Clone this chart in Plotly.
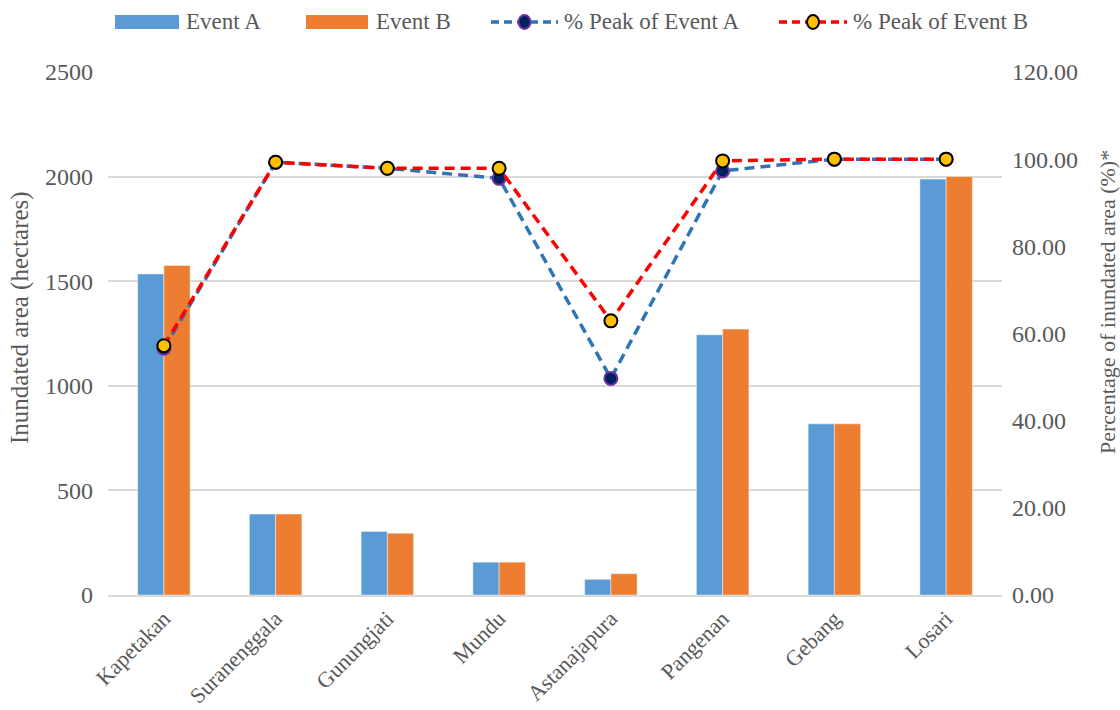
import plotly.graph_objects as go

# Sub-districts and inundated area per event
districts = ["Kapetakan", "Suranenggala", "Gunungjati", "Mundu",
             "Astanajapura", "Pangenan", "Gebang", "Losari"]
area_a = [1535, 387, 304, 157, 75, 1244, 818, 1988]
area_b = [1575, 387, 295, 157, 102, 1271, 818, 2000]
# Percentage of inundated area relative to the peak of each event
pct_a = [56.6, 99.3, 97.9, 95.6, 49.7, 97.3, 100.0, 100.0]
pct_b = [57.2, 99.3, 97.9, 97.9, 62.9, 99.6, 100.0, 100.0]

left_ticks = [0, 500, 1000, 1500, 2000, 2500]
right_ticks = [0, 20, 40, 60, 80, 100, 120]

FONT = "Liberation Serif, Times New Roman, serif"
TXT = "#595959"
GRID = "#d9d9d9"
BLUE = "#5b9bd5"
ORANGE = "#ed7d31"

W, H = 1120, 710
L, R, T, B = 108, 1002, 72, 595


def px(x):
    return (x - L) / (R - L)


def py(y):
    return (B - y) / (B - T)


fig = go.Figure()
fig.add_trace(go.Bar(x=districts, y=area_a, name="Event A",
                     marker=dict(color=BLUE, line=dict(color="rgba(255,255,255,0.45)", width=1)),
                     showlegend=False))
fig.add_trace(go.Bar(x=districts, y=area_b, name="Event B",
                     marker=dict(color=ORANGE, line=dict(color="rgba(255,255,255,0.45)", width=1)),
                     showlegend=False))
fig.add_trace(go.Scatter(x=districts, y=pct_a, name="% Peak of Event A", yaxis="y2",
                         mode="lines+markers",
                         line=dict(color="#2e75b6", width=3.5, dash="10px,6px"),
                         marker=dict(size=13, color="#002060", line=dict(color="#7030a0", width=2)),
                         showlegend=False))
fig.add_trace(go.Scatter(x=districts, y=pct_b, name="% Peak of Event B", yaxis="y2",
                         mode="lines+markers",
                         line=dict(color="#ff0000", width=3.5, dash="10px,6px"),
                         marker=dict(size=13, color="#ffc000", line=dict(color="#000000", width=2)),
                         showlegend=False))

# Legend drawn as shapes and text above the plot
shapes = []
annotations = []
ly = 22
for x0, x1, col in [(115, 179, BLUE), (306, 368, ORANGE)]:
    shapes.append(dict(type="rect", xref="paper", yref="paper",
                       x0=px(x0), x1=px(x1), y0=py(29), y1=py(15),
                       fillcolor=col, line=dict(width=0)))
for x0, x1, lc, fc, oc in [(491, 558, "#2e75b6", "#002060", "#7030a0"),
                           (779, 847, "#ff0000", "#ffc000", "#000000")]:
    shapes.append(dict(type="line", xref="paper", yref="paper",
                       x0=px(x0), x1=px(x1), y0=py(ly), y1=py(ly),
                       line=dict(color=lc, width=3.5, dash="8px,5px")))
    cx = (x0 + x1) / 2
    shapes.append(dict(type="circle", xref="paper", yref="paper",
                       x0=px(cx - 6), x1=px(cx + 6), y0=py(ly + 7), y1=py(ly - 7),
                       fillcolor=fc, line=dict(color=oc, width=2)))
for x, label in [(184, "Event A"), (374, "Event B"),
                 (562, "% Peak of Event A"), (851, "% Peak of Event B")]:
    annotations.append(dict(text=label, xref="paper", yref="paper",
                            x=px(x), y=py(ly), xanchor="left", yanchor="middle",
                            showarrow=False, font=dict(family=FONT, size=23, color=TXT)))

# Axis titles
annotations.append(dict(text="Inundated area (hectares)", xref="paper", yref="paper",
                        x=px(20), y=py(318), xanchor="center", yanchor="middle",
                        textangle=-90, showarrow=False,
                        font=dict(family=FONT, size=25, color=TXT)))
annotations.append(dict(text="Percentage of inundated area (%)*", xref="paper", yref="paper",
                        x=px(1107), y=py(302), xanchor="center", yanchor="middle",
                        textangle=-90, showarrow=False,
                        font=dict(family=FONT, size=22, color=TXT)))

fig.update_layout(
    width=W, height=H,
    margin=dict(l=L, r=W - R, t=T, b=H - B),
    paper_bgcolor="white", plot_bgcolor="white",
    barmode="group", bargap=0.53, bargroupgap=0,
    font=dict(family=FONT, size=20, color=TXT),
    shapes=shapes, annotations=annotations,
    xaxis=dict(tickangle=-45, tickfont=dict(size=22, color=TXT), automargin=False,
               showline=True, linecolor=GRID, linewidth=2, ticks="",
               showgrid=False),
    yaxis=dict(range=[0, 2500], tickvals=left_ticks, ticktext=[str(v) for v in left_ticks],
               showgrid=True, gridcolor=GRID, gridwidth=1.5, zeroline=False, automargin=False,
               tickfont=dict(size=24, color=TXT), ticks="", ticklabelstandoff=14),
    yaxis2=dict(range=[0, 120], tickvals=right_ticks, tickformat=".2f", automargin=False,
                overlaying="y", side="right", showgrid=False, zeroline=False,
                tickfont=dict(size=24, color=TXT), ticks="", ticklabelstandoff=9),
)

fig.write_html("out.html")
